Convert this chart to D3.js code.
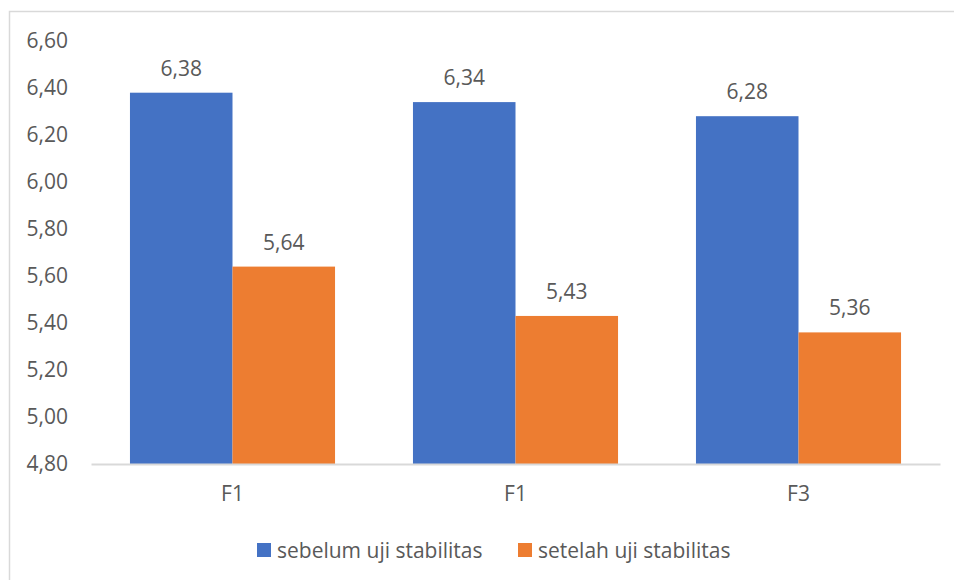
<!DOCTYPE html>
<html>
<head>
<meta charset="utf-8">
<script src="https://cdn.jsdelivr.net/npm/d3@7"></script>
<style>
  html, body { margin: 0; padding: 0; background: #fff; }
  svg { display: block; }
  text { font-family: "Open Sans", "Noto Sans", sans-serif; fill: #595959; }
</style>
</head>
<body>
<svg id="chart" width="954" height="580"></svg>
<script>
// Formulations and pH values before / after the stability test
const categories = ["F1", "F1 ", "F3"];
const seriesNames = ["sebelum uji stabilitas", "setelah uji stabilitas"];
const sebelum = [6.38, 6.34, 6.28];
const setelah = [5.64, 5.43, 5.36];
const yTicks = [4.8, 5.0, 5.2, 5.4, 5.6, 5.8, 6.0, 6.2, 6.4, 6.6];
const colors = ["#4472C4", "#ED7D31"];

const svg = d3.select("#chart");
const fmt = v => d3.format(".2f")(v).replace(".", ",");

// chart frame
svg.append("rect")
  .attr("x", 9.5).attr("y", 11.5)
  .attr("width", 960).attr("height", 600)
  .attr("fill", "none").attr("stroke", "#d9d9d9").attr("stroke-width", 1.5);

const plot = { left: 91, right: 940, top: 41, bottom: 464 };

const y = d3.scaleLinear().domain([4.8, 6.6]).range([plot.bottom, plot.top]);
const x0 = d3.scaleBand().domain(categories).range([plot.left, plot.right]).padding(0);
const x1 = d3.scaleBand().domain(seriesNames).range([0, x0.bandwidth()])
  .paddingInner(0).paddingOuter(0.38);

const rows = categories.map((c, i) => ({ cat: c, vals: [sebelum[i], setelah[i]] }));

// y axis labels (no axis line)
const yAxis = d3.axisLeft(y).tickValues(yTicks).tickFormat(fmt).tickSize(0).tickPadding(0);
const gy = svg.append("g").attr("transform", `translate(68,0)`).call(yAxis);
gy.select(".domain").remove();
gy.selectAll("text").style("font-size", "21px").attr("fill", "#595959")
  .style("font-family", '"Open Sans", sans-serif');

// bars
const groups = svg.append("g").selectAll("g").data(rows).join("g")
  .attr("transform", d => `translate(${x0(d.cat)},0)`);

groups.selectAll("rect").data(d => d.vals.map((v, k) => ({ v, k })))
  .join("rect")
  .attr("x", d => x1(seriesNames[d.k]))
  .attr("y", d => y(d.v))
  .attr("width", x1.bandwidth())
  .attr("height", d => y(4.8) - y(d.v))
  .attr("fill", d => colors[d.k]);

// value labels
groups.selectAll("text.val").data(d => d.vals.map((v, k) => ({ v, k })))
  .join("text").attr("class", "val")
  .attr("x", d => x1(seriesNames[d.k]) + x1.bandwidth() / 2)
  .attr("y", d => y(d.v) - 17)
  .attr("text-anchor", "middle")
  .style("font-size", "21px")
  .attr("fill", "#404040")
  .text(d => fmt(d.v));

// x axis baseline and category labels
const xAxis = d3.axisBottom(x0).tickSize(0).tickPadding(22).tickFormat(d => d.trim());
const gx = svg.append("g").attr("transform", `translate(0,${plot.bottom})`).call(xAxis);
gx.select(".domain").attr("stroke", "#d9d9d9").attr("stroke-width", 2);
gx.selectAll("text").style("font-size", "21px").attr("fill", "#595959")
  .style("font-family", '"Open Sans", sans-serif');

// legend
const legendX = [257, 518];
const legend = svg.append("g").selectAll("g").data(seriesNames).join("g")
  .attr("transform", (d, i) => `translate(${legendX[i]},543)`);
legend.append("rect").attr("width", 14).attr("height", 14)
  .attr("fill", (d, i) => colors[i]);
legend.append("text").attr("x", 20).attr("y", 7).attr("dy", "0.36em")
  .style("font-size", "21px").text(d => d);
</script>
</body>
</html>
